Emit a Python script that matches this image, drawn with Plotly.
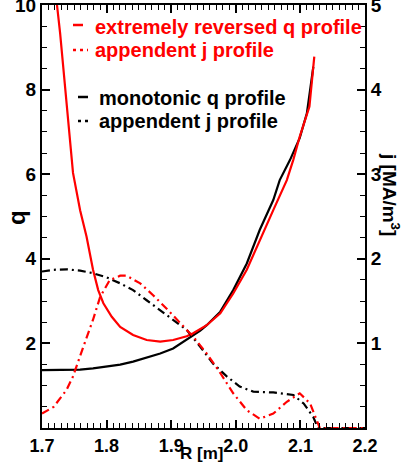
import plotly.graph_objects as go

# ---------------- data ----------------
R_rev = [1.7215, 1.7232, 1.728, 1.733, 1.738, 1.743, 1.748, 1.759, 1.769, 1.779, 1.787,
         1.795, 1.808, 1.821, 1.841, 1.862, 1.883, 1.903, 1.924, 1.934, 1.955,
         1.976, 1.996, 2.017, 2.037, 2.058, 2.079, 2.089, 2.099, 2.114, 2.1215]
q_rev = [10.4, 10.0, 9.34, 8.54, 7.75, 6.97, 6.03, 5.15, 4.52, 3.74, 3.26,
         2.95, 2.63, 2.39, 2.20, 2.08, 2.04, 2.08, 2.17, 2.24, 2.43,
         2.71, 3.18, 3.74, 4.44, 5.15, 5.86, 6.34, 6.89, 7.60, 8.78]

R_mono = [1.700, 1.718, 1.738, 1.759, 1.779, 1.800, 1.821, 1.841, 1.862, 1.883,
          1.903, 1.924, 1.945, 1.955, 1.976, 1.996, 2.017, 2.037, 2.058, 2.068,
          2.084, 2.099, 2.110, 2.120]
q_mono = [1.37, 1.37, 1.37, 1.38, 1.41, 1.45, 1.50, 1.57, 1.66, 1.76,
          1.88, 2.08, 2.30, 2.43, 2.75, 3.26, 3.89, 4.68, 5.39, 5.86,
          6.34, 6.86, 7.44, 8.54]

R_jm = [1.700, 1.718, 1.738, 1.759, 1.779, 1.800, 1.821, 1.841, 1.862, 1.883,
        1.903, 1.924, 1.945, 1.965, 1.986, 2.006, 2.027, 2.058, 2.089, 2.105,
        2.120, 2.127, 2.200]
j_mono = [1.85, 1.87, 1.876, 1.86, 1.83, 1.78, 1.71, 1.63, 1.51, 1.39,
          1.28, 1.16, 0.96, 0.76, 0.61, 0.49, 0.43, 0.42, 0.39, 0.29,
          0.13, 0.0, 0.0]

R_jr = [1.700, 1.718, 1.738, 1.748, 1.764, 1.779, 1.790, 1.805, 1.821, 1.831,
        1.852, 1.872, 1.893, 1.914, 1.934, 1.955, 1.976, 1.996, 2.017, 2.037,
        2.058, 2.079, 2.099, 2.115, 2.123, 2.130, 2.200]
j_rev = [0.17, 0.25, 0.45, 0.61, 0.96, 1.28, 1.55, 1.75, 1.80, 1.80,
         1.71, 1.57, 1.41, 1.24, 1.08, 0.88, 0.65, 0.41, 0.21, 0.11,
         0.17, 0.31, 0.41, 0.29, 0.13, 0.0, 0.0]

legend_labels = ["extremely reversed q profile", "appendent j profile",
                 "monotonic q profile", "appendent j profile"]

W, H = 402, 469
L, R, T, B = 42, 37, 5, 41
PW, PH = W - L - R, H - T - B


def px(x):
    return (x - L) / PW


def py(y):
    return (H - B - y) / PH


RED = "#ff0000"
BLK = "#000000"
FONT = "Liberation Sans"
DASH = "8px,4px,2px,4px"

fig = go.Figure()
fig.add_trace(go.Scatter(x=R_mono, y=q_mono, mode="lines", line=dict(color=BLK, width=2.2),
                         yaxis="y", showlegend=False))
fig.add_trace(go.Scatter(x=R_jm, y=j_mono, mode="lines", line=dict(color=BLK, width=2.2, dash=DASH),
                         yaxis="y2", showlegend=False))
fig.add_trace(go.Scatter(x=R_jr, y=j_rev, mode="lines", line=dict(color=RED, width=2.2, dash=DASH),
                         yaxis="y2", showlegend=False))
fig.add_trace(go.Scatter(x=R_rev, y=q_rev, mode="lines", line=dict(color=RED, width=2.2),
                         yaxis="y", showlegend=False))


def axis(**kw):
    d = dict(showline=True, linecolor=BLK, linewidth=2, showgrid=False, zeroline=False,
             ticks="inside", tickcolor=BLK, tickwidth=1.5, ticklen=8,
             ticklabeloverflow="allow", automargin=False)
    d.update(kw)
    return d


def minor(dt, t0):
    return dict(tick0=t0, dtick=dt, ticklen=5, ticks="inside", tickcolor=BLK, tickwidth=1.2,
                showgrid=False)


fig.update_layout(
    width=W, height=H,
    margin=dict(l=L, r=R, t=T, b=B, pad=0),
    paper_bgcolor="white", plot_bgcolor="white",
    showlegend=False,
    xaxis=axis(range=[1.7, 2.2], tick0=1.7, dtick=0.1, tickformat=".1f", mirror="ticks",
               minor=minor(0.01, 1.7),
               tickfont=dict(family=FONT, size=18, color=BLK, weight="bold")),
    yaxis=axis(range=[0, 10], tick0=0, dtick=2, labelalias={"0": ""},
               minor=minor(0.5, 0),
               tickfont=dict(family="Liberation Sans Narrow, " + FONT, size=19, color=BLK, weight="bold")),
    yaxis2=axis(range=[0, 5], overlaying="y", side="right", tick0=0, dtick=1, labelalias={"0": ""},
                minor=minor(0.25, 0),
                tickfont=dict(family="Liberation Sans Narrow, " + FONT, size=19, color=BLK, weight="bold")),
)

annotations = [
    dict(text="R [m]", x=px(201), y=py(453), font=dict(size=17)),
    dict(text="q", x=px(17), y=py(218), textangle=-90, font=dict(size=24)),
    dict(text="j [MA/m<sup>3</sup>]", x=px(391), y=py(194), textangle=90, font=dict(size=19)),
    dict(text=legend_labels[0], x=px(93), y=py(27), xanchor="left", font=dict(size=20, color=RED)),
    dict(text=legend_labels[1], x=px(93), y=py(50), xanchor="left", font=dict(size=20, color=RED)),
    dict(text=legend_labels[2], x=px(97), y=py(98), xanchor="left", font=dict(size=20, color=BLK)),
    dict(text=legend_labels[3], x=px(97), y=py(121), xanchor="left", font=dict(size=20, color=BLK)),
]
for a in annotations:
    f = dict(family=FONT, color=BLK, weight="bold")
    f.update(a.pop("font"))
    fig.add_annotation(xref="paper", yref="paper", showarrow=False,
                       xanchor=a.pop("xanchor", "center"), yanchor="middle", font=f, **a)

shapes = [
    (73, 83, 25, RED, "solid"),
    (73, 88, 50, RED, "3px,4px"),
    (78, 88, 97, BLK, "solid"),
    (78, 91, 121, BLK, "3px,4px"),
]
for x0, x1, y0, c, d in shapes:
    fig.add_shape(type="line", xref="paper", yref="paper", x0=px(x0), x1=px(x1), y0=py(y0), y1=py(y0),
                  line=dict(color=c, width=2.5, dash=d))

fig.write_html("out.html")
